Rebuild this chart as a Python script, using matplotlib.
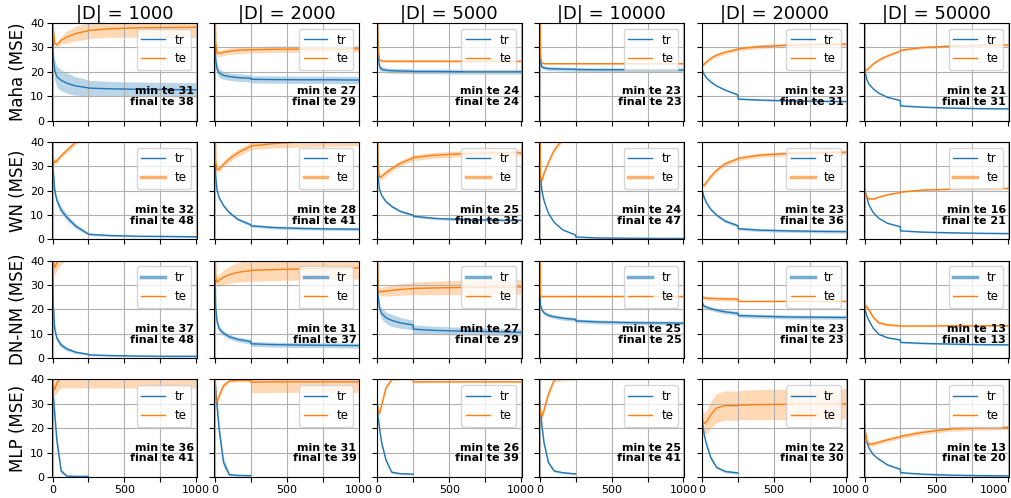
import numpy as np
import matplotlib
matplotlib.use("Agg")
import matplotlib.pyplot as plt
from matplotlib.lines import Line2D

# sample points along the training axis (shared by every curve)
x = [0, 5, 15, 30, 60, 100, 160, 249, 251, 400, 600, 800, 1000]
sizes = [1000, 2000, 5000, 10000, 20000, 50000]
methods = ["Maha", "WN", "DN-NM", "MLP"]
nan = np.nan

# ---- Maha ----
maha_tr = [
    [40, 26, 20.5, 18, 16.5, 15.3, 14.2, 13.4, 13.3, 13.0, 12.8, 12.7, 12.6],
    [40, 25, 21, 19.5, 18.5, 18, 17.6, 17.3, 16.9, 16.8, 16.7, 16.7, 16.6],
    [40, 27, 22, 21, 20.6, 20.4, 20.3, 20.2, 20.1, 20.1, 20.0, 20.0, 20.0],
    [40, 24, 22, 21.6, 21.3, 21.2, 21.1, 21.0, 20.9, 20.8, 20.8, 20.7, 20.7],
    [21, 20, 18.8, 17.5, 15.8, 14.2, 12.5, 10.5, 8.8, 8.4, 8.1, 7.9, 7.8],
    [22, 19.5, 17, 15, 13, 11.2, 9.5, 8.2, 6.0, 5.5, 5.1, 4.9, 4.8],
]
maha_tr_sd = [
    [4, 4, 4.2, 4.3, 4.3, 4.2, 3.8, 3.3, 3.2, 3.0, 3.0, 2.9, 2.9],
    [2, 2, 2, 1.8, 1.6, 1.5, 1.5, 1.5, 1.5, 1.5, 1.5, 1.5, 1.5],
    [1.5, 1.5, 1.5, 1.2, 1, 1, 1, 1, 1, 1, 1, 1, 1],
    [0.8, 0.8, 0.8, 0.8, 0.8, 0.8, 0.8, 0.8, 0.8, 0.8, 0.8, 0.8, 0.8],
    [0.3, 0.3, 0.3, 0.3, 0.3, 0.3, 0.3, 0.3, 0.3, 0.3, 0.3, 0.3, 0.3],
    [0.2, 0.2, 0.2, 0.2, 0.2, 0.2, 0.2, 0.2, 0.2, 0.2, 0.2, 0.2, 0.2],
]
maha_te = [
    [60, 38, 31.5, 31, 32.9, 34.2, 35.6, 36.8, 36.9, 37.6, 38, 38.1, 38.2],
    [60, 32, 27.5, 27.5, 28, 28.4, 28.8, 29.0, 29.0, 29.2, 29.3, 29.3, 29.4],
    [60, 30, 25, 24.4, 24.3, 24.3, 24.3, 24.3, 24.3, 24.3, 24.3, 24.3, 24.3],
    [60, 26, 23.6, 23.3, 23.3, 23.3, 23.3, 23.3, 23.3, 23.3, 23.3, 23.3, 23.3],
    [23.5, 22.8, 23.2, 24, 25.5, 26.8, 28, 29.2, 29.4, 30.3, 30.9, 31.2, 31.3],
    [23, 21.2, 20.6, 21.5, 23.2, 24.8, 26.5, 28.5, 28.8, 29.9, 30.5, 30.8, 31.0],
]
maha_te_sd = [
    [3, 2, 1, 1, 1.5, 2.5, 3, 3.3, 3.3, 3.5, 3.8, 4, 4.2],
    [1.5, 1.5, 1.3, 1.3, 1.3, 1.3, 1.3, 1.3, 1.3, 1.3, 1.3, 1.3, 1.3],
    [0.5, 0.5, 0.5, 0.5, 0.5, 0.5, 0.5, 0.5, 0.5, 0.5, 0.5, 0.5, 0.5],
    [0.3, 0.3, 0.3, 0.3, 0.3, 0.3, 0.3, 0.3, 0.3, 0.3, 0.3, 0.3, 0.3],
    [0.8, 0.8, 0.8, 0.8, 0.8, 0.8, 0.8, 0.8, 0.8, 0.8, 0.8, 0.8, 0.8],
    [0.5, 0.5, 0.5, 0.5, 0.5, 0.5, 0.5, 0.5, 0.5, 0.5, 0.5, 0.5, 0.5],
]

# ---- WN ----
wn_tr = [
    [40, 28, 20, 16, 12, 9, 5.5, 2.2, 2.1, 1.6, 1.3, 1.2, 1.1],
    [40, 26, 20, 17, 13.8, 11, 8.2, 6.0, 5.6, 4.9, 4.5, 4.3, 4.2],
    [40, 26, 20.5, 18, 15.5, 13.5, 11.5, 9.9, 9.5, 8.6, 8.1, 7.9, 7.8],
    [40, 26, 20, 15.8, 10.8, 7, 3.9, 1.8, 1.0, 0.6, 0.5, 0.4, 0.4],
    [20.5, 19, 17, 15, 12.3, 10, 7.5, 5.6, 4.4, 3.8, 3.5, 3.3, 3.2],
    [21, 19.5, 17.5, 14.2, 11, 8.6, 6.6, 5.2, 3.5, 3.0, 2.7, 2.5, 2.4],
]
wn_tr_sd = [
    [2, 2, 1.5, 1.5, 1.5, 1.3, 1, 0.5, 0.5, 0.4, 0.3, 0.3, 0.3],
    [0.6, 0.6, 0.6, 0.6, 0.6, 0.6, 0.6, 0.6, 0.6, 0.6, 0.6, 0.6, 0.6],
    [0.5, 0.5, 0.5, 0.5, 0.5, 0.5, 0.5, 0.5, 0.5, 0.5, 0.5, 0.5, 0.5],
    [0.2, 0.2, 0.2, 0.2, 0.2, 0.2, 0.2, 0.2, 0.2, 0.2, 0.2, 0.2, 0.2],
    [0.6, 0.6, 0.6, 0.6, 0.6, 0.6, 0.6, 0.6, 0.6, 0.6, 0.6, 0.6, 0.6],
    [0.2, 0.2, 0.2, 0.2, 0.2, 0.2, 0.2, 0.2, 0.2, 0.2, 0.2, 0.2, 0.2],
]
wn_te = [
    [60, 33, 31.5, 32.2, 34.3, 36.5, 39.8, 43, 43.2, 45, 47, 48, 48],
    [60, 32, 28.5, 28.8, 30.8, 33, 35.5, 38.2, 38.3, 39.2, 40, 40.6, 41],
    [60, 29, 25.4, 25.8, 27.3, 29, 31.2, 33.4, 33.5, 34.5, 35.1, 35.4, 35.5],
    [60, 24.5, 24.2, 27, 31.5, 36.5, 41, 44, 44.2, 45.5, 46.5, 47, 47],
    [23, 22.3, 22.2, 23.4, 25.8, 28.3, 31, 33, 33.2, 34.5, 35.2, 35.5, 35.7],
    [21.5, 19.5, 17.5, 16.6, 16.5, 17.3, 18.3, 19.2, 19.4, 20.2, 20.6, 20.8, 20.9],
]
wn_te_sd = [
    [1, 1, 1, 1, 1, 1, 1, 1, 1, 1, 1, 1, 1],
    [2, 1.5, 1, 1, 1.2, 1.3, 1.5, 1.5, 1.5, 1.8, 2.2, 2.5, 2.6],
    [1.2, 1.2, 1.2, 1.2, 1.2, 1.2, 1.2, 1.2, 1.2, 1.2, 1.2, 1.2, 1.2],
    [0.8, 0.8, 0.8, 0.8, 0.8, 0.8, 0.8, 0.8, 0.8, 0.8, 0.8, 0.8, 0.8],
    [0.9, 0.9, 0.9, 0.9, 0.9, 0.9, 0.9, 0.9, 0.9, 0.9, 0.9, 0.9, 0.9],
    [0.3, 0.3, 0.3, 0.3, 0.3, 0.3, 0.3, 0.3, 0.3, 0.3, 0.3, 0.3, 0.3],
]

# ---- DN-NM ----
dnnm_tr = [
    [40, 22, 12, 8.2, 5.4, 3.8, 2.5, 1.6, 1.4, 1.1, 0.9, 0.8, 0.8],
    [40, 21, 15, 12, 10.2, 8.8, 7.7, 6.8, 5.9, 5.6, 5.4, 5.3, 5.2],
    [40, 26, 20.5, 18.3, 16.6, 15.5, 14.5, 13.6, 11.9, 11.4, 11.1, 10.9, 10.6],
    [30, 21.8, 19.8, 18.6, 17.6, 17, 16.4, 15.9, 15.3, 14.9, 14.6, 14.5, 14.4],
    [23, 22, 21.3, 20.9, 20.3, 19.7, 19, 18.4, 17.5, 17.2, 16.9, 16.8, 16.7],
    [22, 19.5, 17.5, 15.5, 12.3, 9.8, 8.4, 7.5, 6.5, 6.1, 5.8, 5.6, 5.5],
]
dnnm_tr_sd = [
    [2, 2, 1.5, 1.2, 1, 0.8, 0.6, 0.4, 0.4, 0.3, 0.3, 0.3, 0.3],
    [1.5, 1.5, 1.3, 1.2, 1.1, 1, 1, 1, 1, 1, 1, 1, 1],
    [2, 2, 2, 2.2, 2.4, 2.5, 2.2, 2, 1.8, 1.7, 1.6, 1.5, 1.5],
    [0.8, 0.8, 0.8, 0.8, 0.8, 0.8, 0.8, 0.8, 0.8, 0.8, 0.8, 0.8, 0.8],
    [0.8, 0.8, 0.8, 0.8, 0.8, 0.8, 0.8, 0.8, 0.8, 0.8, 0.8, 0.8, 0.8],
    [0.3, 0.3, 0.3, 0.3, 0.3, 0.3, 0.3, 0.3, 0.3, 0.3, 0.3, 0.3, 0.3],
]
dnnm_te = [
    [60, 40, 37.2, 39, 41.5, 43.5, 45, 46.5, 46.6, 47.2, 47.6, 47.9, 48],
    [60, 33, 31.2, 32, 33.2, 34.2, 35.2, 35.9, 36, 36.3, 36.6, 36.8, 37],
    [60, 27.8, 27.2, 27.3, 27.5, 27.8, 28.2, 28.5, 28.6, 28.8, 29, 29.1, 29.2],
    [60, 25.6, 25.3, 25.3, 25.3, 25.3, 25.3, 25.3, 25.3, 25.3, 25.3, 25.3, 25.3],
    [25.5, 25, 24.8, 24.6, 24.5, 24.4, 24.3, 24.2, 23.3, 23.3, 23.3, 23.3, 23.3],
    [22.5, 21.8, 21, 19.8, 16.8, 14.5, 13.7, 13.3, 13.2, 13.2, 13.3, 13.3, 13.3],
]
dnnm_te_sd = [
    [4, 4, 3.5, 3, 3, 3, 3, 3, 3, 3, 3, 3, 3],
    [3, 2.5, 2, 2.5, 3, 3.5, 4, 4.5, 4.5, 4.5, 4.5, 4.5, 4.5],
    [2, 1.5, 1.5, 1.8, 2, 2.2, 2.4, 2.5, 2.6, 2.8, 3, 3, 3],
    [0.3, 0.3, 0.3, 0.3, 0.3, 0.3, 0.3, 0.3, 0.3, 0.3, 0.3, 0.3, 0.3],
    [0.8, 0.8, 0.8, 0.8, 0.8, 0.8, 0.8, 0.8, 0.3, 0.3, 0.3, 0.3, 0.3],
    [0.8, 0.8, 0.8, 0.8, 0.8, 0.6, 0.5, 0.4, 0.3, 0.3, 0.3, 0.3, 0.3],
]

# ---- MLP ----
mlp_tr = [
    [40, 34, 26, 15, 2.5, 0.4, 0.3, 0.3, nan, nan, nan, nan, nan],
    [40, 36, 29, 19, 6, 1, 0.7, 0.6, nan, nan, nan, nan, nan],
    [30, 25, 20, 14, 7, 2, 1.4, 1.2, nan, nan, nan, nan, nan],
    [31, 27.5, 21, 14, 6, 2.5, 1.8, 1.3, nan, nan, nan, nan, nan],
    [24, 21, 17, 13.5, 8, 4, 2.3, 1.7, nan, nan, nan, nan, nan],
    [22, 18, 14.5, 12, 9.2, 7.3, 5, 3.2, 1.8, 1.2, 0.8, 0.6, 0.5],
]
mlp_tr_sd = [
    [1, 2, 2.5, 2.5, 1, 0.2, 0.1, 0.1, nan, nan, nan, nan, nan],
    [1, 2, 2.5, 3, 2, 0.6, 0.3, 0.3, nan, nan, nan, nan, nan],
    [1, 1, 1, 1, 0.8, 0.5, 0.3, 0.3, nan, nan, nan, nan, nan],
    [1, 1, 1, 1, 0.8, 0.5, 0.4, 0.3, nan, nan, nan, nan, nan],
    [1, 1, 1, 1, 0.8, 0.6, 0.5, 0.5, nan, nan, nan, nan, nan],
    [0.3, 0.3, 0.3, 0.3, 0.3, 0.3, 0.3, 0.3, 0.3, 0.3, 0.3, 0.3, 0.3],
]
mlp_te = [
    [60, 38, 36, 38.5, 41, 41, 41, 41, 41, 41, 41, 41, 41],
    [60, 32, 30.8, 33.5, 37.5, 39.4, 39.6, 39.6, 38.9, 39, 39, 39, 39],
    [30, 27, 26.2, 29.5, 36.5, 40, 40.2, 40, 39, 39, 39, 39, 39],
    [30, 25.5, 24.8, 27.5, 34, 39.8, 40.5, 40.8, 41, 41, 41, 41, 41],
    [24.5, 23, 22, 22.5, 25.5, 28.3, 29.3, 29.2, 29.5, 29.7, 29.8, 29.9, 30],
    [24, 19, 15, 13.4, 13.6, 14.3, 15.3, 16.5, 16.7, 18.3, 19.7, 20.1, 20.3],
]
mlp_te_sd = [
    [3, 3, 3, 4, 4.5, 4.5, 4.5, 4.5, 4.5, 4.5, 4.5, 4.5, 4.5],
    [2, 1.5, 1.2, 1.5, 1, 0.6, 0.5, 0.6, 4.3, 4.3, 4.3, 4.3, 4.3],
    [1, 1, 1, 1, 0.8, 0.5, 0.4, 0.4, 0.4, 0.3, 0.3, 0.3, 0.3],
    [1, 1, 1, 1.5, 1.5, 1, 1, 1, 1, 1, 1, 1, 1],
    [3, 4, 4.5, 5, 5.5, 6, 6, 6, 6, 6.2, 6.2, 6.2, 6.2],
    [1, 1, 1, 0.8, 0.8, 0.8, 0.8, 0.9, 0.9, 0.9, 0.9, 0.9, 0.9],
]

min_te = [
    [31, 27, 24, 23, 23, 21],
    [32, 28, 25, 24, 23, 16],
    [37, 31, 27, 25, 23, 13],
    [36, 31, 26, 25, 22, 13],
]
final_te = [
    [38, 29, 24, 23, 31, 31],
    [48, 41, 35, 47, 36, 21],
    [48, 37, 29, 25, 23, 13],
    [41, 39, 39, 41, 30, 20],
]

rows = [
    (maha_tr, maha_tr_sd, maha_te, maha_te_sd),
    (wn_tr, wn_tr_sd, wn_te, wn_te_sd),
    (dnnm_tr, dnnm_tr_sd, dnnm_te, dnnm_te_sd),
    (mlp_tr, mlp_tr_sd, mlp_te, mlp_te_sd),
]
# which legend entry shows up as a thick faded line in each row
thick_handle = [None, "te", "tr", None]

c_tr = "#1f77b4"
c_te = "#ff7f0e"

fig, axes = plt.subplots(4, 6, figsize=(10.11, 4.98), dpi=100)
fig.subplots_adjust(left=0.0514, right=0.998, top=0.954, bottom=0.042,
                    wspace=0.12, hspace=0.217)

xs = np.array(x, dtype=float)
for r, (tr, tr_sd, te, te_sd) in enumerate(rows):
    for c in range(6):
        ax = axes[r, c]
        m_tr, s_tr = np.array(tr[c], float), np.array(tr_sd[c], float)
        m_te, s_te = np.array(te[c], float), np.array(te_sd[c], float)
        ax.fill_between(xs, m_tr - s_tr, m_tr + s_tr, color=c_tr, alpha=0.3, lw=0)
        ax.fill_between(xs, m_te - s_te, m_te + s_te, color=c_te, alpha=0.3, lw=0)
        ax.plot(xs, m_tr, color=c_tr, lw=1.0)
        ax.plot(xs, m_te, color=c_te, lw=1.0)

        ax.set_xlim(-4, 1005)
        ax.set_ylim(0, 40)
        ax.set_xticks([0, 250, 500, 750, 1000])
        ax.set_yticks([0, 10, 20, 30, 40])
        ax.grid(True, color="#b0b0b0", lw=0.8)
        ax.tick_params(labelsize=8, pad=2)
        if r == 3:
            ax.set_xticklabels(["0", "", "500", "", "1000"])
            if c == 5:
                # keep the last label inside the canvas
                ax.get_xticklabels()[-1].set_horizontalalignment("right")
        else:
            ax.set_xticklabels([])
        if c != 0:
            ax.set_yticklabels([])
        else:
            ax.set_ylabel(f"{methods[r]} (MSE)", fontsize=12, labelpad=2)
        if r == 0:
            ax.set_title(f"|D| = {sizes[c]}", fontsize=13, pad=3)

        handles = []
        for name, col in (("tr", c_tr), ("te", c_te)):
            if thick_handle[r] == name:
                handles.append(Line2D([], [], color=col, lw=2.5, alpha=0.6, label=name))
            else:
                handles.append(Line2D([], [], color=col, lw=1.0, label=name))
        ax.legend(handles=handles, loc="upper right", fontsize=8.5)

        ax.text(0.98, 0.14, f"min te {min_te[r][c]}\nfinal te {final_te[r][c]}",
                transform=ax.transAxes, ha="right", va="bottom",
                fontsize=8, fontweight="bold", linespacing=1.05)

fig.savefig("out.png", dpi=100)
